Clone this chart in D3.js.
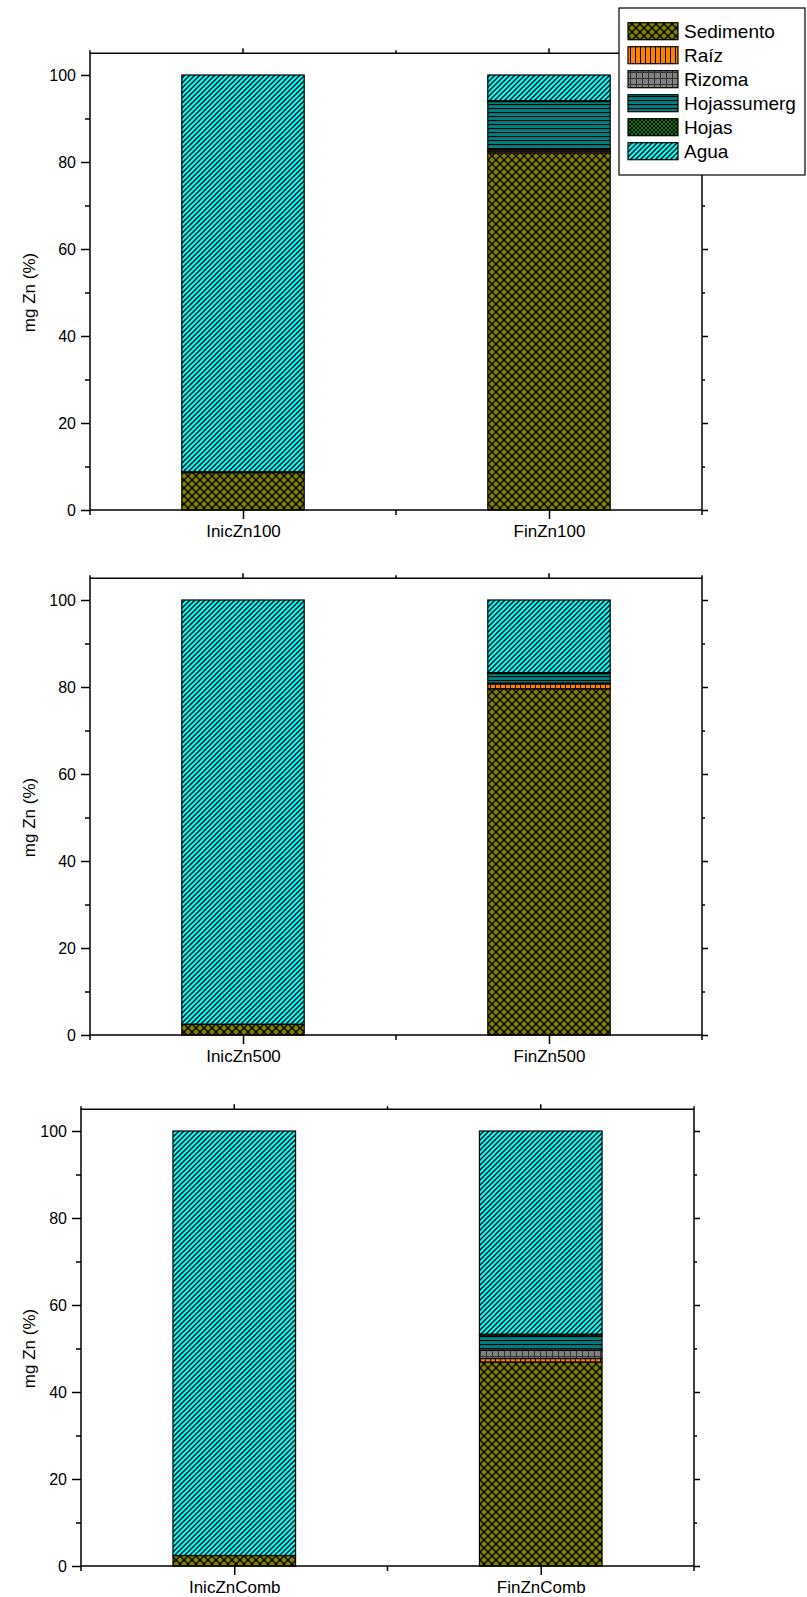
<!DOCTYPE html>
<html><head><meta charset="utf-8">
<script src="https://cdn.jsdelivr.net/npm/d3@7"></script>
<style>body{margin:0;background:#fff}svg{display:block}text{font-family:"Liberation Sans",Arial,sans-serif;fill:#000}</style>
</head><body>
<script>
// ---- data ----
const categories = ["InicZn100","FinZn100","InicZn500","FinZn500","InicZnComb","FinZnComb"];
const panels = [["InicZn100","FinZn100"],["InicZn500","FinZn500"],["InicZnComb","FinZnComb"]];
const components = ["Sedimento","Raíz","Rizoma","Hojassumerg","Hojas","Agua"];
const sedimento   = [8.6, 82.1, 2.5, 79.6, 2.4, 46.9];
const raiz        = [0.0, 0.4, 0.0, 1.1, 0.0, 0.8];
const rizoma      = [0.0, 0.4, 0.0, 0.2, 0.0, 1.9];
const hojassumerg = [0.0, 11.0, 0.0, 2.2, 0.0, 3.3];
const hojas       = [0.2, 0.2, 0.0, 0.2, 0.0, 0.4];
const agua        = [91.2, 5.9, 97.5, 16.7, 97.6, 46.7];
const yTicks = [0,20,40,60,80,100];
const yMinorTicks = [10,30,50,70,90];
const yTitle = "mg Zn (%)";

const seriesValues = [sedimento, raiz, rizoma, hojassumerg, hojas, agua];
const table = categories.map((c,i)=>{const o={cat:c}; components.forEach((k,j)=>o[k]=seriesValues[j][i]); return o;});

// ---- layout ----
const W=807,H=1597;
const layout=[{left:90,right:702,y0:510},{left:90,right:702,y0:1035},{left:81,right:694,y0:1566}];
const pxPerUnit=4.35, yMax=105;

const svg=d3.select("body").append("svg").attr("width",W).attr("height",H);
const defs=svg.append("defs");
function pat(id,w,h,fill,draw){
  const p=defs.append("pattern").attr("id",id).attr("patternUnits","userSpaceOnUse").attr("width",w).attr("height",h);
  p.append("rect").attr("width",w).attr("height",h).attr("fill",fill);
  draw(p);
}
pat("p0",8,8,"#808000",p=>p.append("path").attr("d","M0,0L8,8M8,0L0,8").attr("stroke","#000").attr("stroke-width",1.3));
pat("p1",5,5,"#FF8000",p=>p.append("path").attr("d","M0.5,0V5").attr("stroke","#000").attr("stroke-width",1));
pat("p2",6,6,"#808080",p=>p.append("path").attr("d","M0.5,0V6M0,0.5H6").attr("stroke","#333").attr("stroke-width",1));
pat("p3",4,4,"#008080",p=>p.append("path").attr("d","M0,0.5H4").attr("stroke","#000").attr("stroke-width",1.2));
pat("p4",4,4,"#008000",p=>p.append("path").attr("d","M0,0L4,4M4,0L0,4").attr("stroke","#000").attr("stroke-width",1));
pat("p5",5,5,"#00FFFF",p=>p.append("path").attr("d","M0,5L5,0M-1,1L1,-1M4,6L6,4").attr("stroke","#000").attr("stroke-width",1.3));
const fills=components.map((c,i)=>`url(#p${i})`);

const stack=d3.stack().keys(components);

panels.forEach((cats,pi)=>{
  const L=layout[pi];
  const x=d3.scalePoint().domain(cats).range([L.left,L.right]).padding(0.5);
  const bw=x.step()*0.4;
  const y=d3.scaleLinear().domain([0,yMax]).range([L.y0,L.y0-yMax*pxPerUnit]);
  const g=svg.append("g");
  const data=table.filter(d=>cats.includes(d.cat));
  const st=stack(data);
  st.forEach((s,si)=>{
    g.selectAll(null).data(s.filter(d=>d[1]-d[0]>0)).join("rect")
      .attr("x",d=>x(d.data.cat)-bw/2).attr("width",bw)
      .attr("y",d=>y(d[1])).attr("height",d=>y(d[0])-y(d[1]))
      .attr("fill",fills[si]).attr("stroke","#000").attr("stroke-width",1.2);
  });
  // frame
  g.append("rect").attr("x",L.left).attr("y",y(yMax)).attr("width",L.right-L.left).attr("height",y(0)-y(yMax))
    .attr("fill","none").attr("stroke","#000").attr("stroke-width",1.5);
  // left axis
  const ax=g.append("g").attr("transform",`translate(${L.left},0)`)
    .call(d3.axisLeft(y).tickValues(yTicks).tickSize(9).tickPadding(5).tickFormat(d3.format("d")));
  ax.select(".domain").remove();
  ax.selectAll("line").attr("stroke-width",1.5);
  ax.selectAll("text").attr("font-size",16).style("font-family",'"Liberation Sans",Arial,sans-serif');
  const axm=g.append("g").attr("transform",`translate(${L.left},0)`)
    .call(d3.axisLeft(y).tickValues(yMinorTicks).tickSize(5).tickFormat(""));
  axm.select(".domain").remove(); axm.selectAll("line").attr("stroke-width",1.5);
  // right mirror
  const ar=g.append("g").attr("transform",`translate(${L.right},0)`)
    .call(d3.axisRight(y).tickValues(yTicks).tickSize(6).tickFormat(""));
  ar.select(".domain").remove(); ar.selectAll("line").attr("stroke-width",1.5);
  const arm=g.append("g").attr("transform",`translate(${L.right},0)`)
    .call(d3.axisRight(y).tickValues(yMinorTicks).tickSize(3).tickFormat(""));
  arm.select(".domain").remove(); arm.selectAll("line").attr("stroke-width",1.5);
  // bottom axis
  const bx=g.append("g").attr("transform",`translate(0,${L.y0})`)
    .call(d3.axisBottom(x).tickSize(9).tickPadding(6));
  bx.select(".domain").remove(); bx.selectAll("line").attr("stroke-width",1.5);
  bx.selectAll("text").attr("font-size",17).style("font-family",'"Liberation Sans",Arial,sans-serif');
  const minorX=[L.left,(L.left+L.right)/2,L.right];
  g.selectAll(null).data(minorX).join("line").attr("x1",d=>d).attr("x2",d=>d)
    .attr("y1",L.y0).attr("y2",L.y0+5).attr("stroke","#000").attr("stroke-width",1.5);
  // top mirror
  const topY=y(yMax);
  g.selectAll(null).data(cats).join("line").attr("x1",d=>x(d)).attr("x2",d=>x(d))
    .attr("y1",topY).attr("y2",topY-5).attr("stroke","#000").attr("stroke-width",1.5);
  g.selectAll(null).data(minorX).join("line").attr("x1",d=>d).attr("x2",d=>d)
    .attr("y1",topY).attr("y2",topY-3).attr("stroke","#000").attr("stroke-width",1.5);
  // y title
  g.append("text").attr("transform",`translate(31,${y(50)}) rotate(-90)`).attr("text-anchor","middle")
    .attr("dominant-baseline","middle").attr("font-size",17).text(yTitle);
});

// legend
const lg=svg.append("g");
lg.append("rect").attr("x",619).attr("y",8).attr("width",186).attr("height",167).attr("fill","#fff").attr("stroke","#000").attr("stroke-width",1.2);
components.forEach((c,i)=>{
  const yy=22.7+i*24;
  lg.append("rect").attr("x",628).attr("y",yy).attr("width",50).attr("height",17).attr("fill",fills[i]).attr("stroke","#000").attr("stroke-width",1.2);
  lg.append("text").attr("x",684).attr("y",yy+15).attr("font-size",19).text(c);
});
</script>
</body></html>
